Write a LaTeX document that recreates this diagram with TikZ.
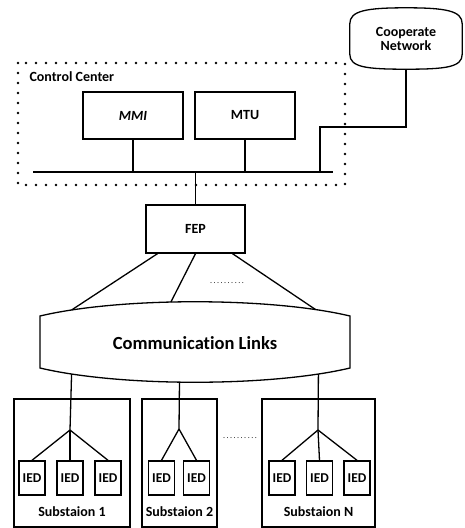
\documentclass[tikz,border=0pt]{standalone}
\usepackage{fontspec}
\setmainfont{Carlito}[Ligatures=NoCommon]
\usetikzlibrary{positioning, calc}
\tikzset{
    unit/.style={
        rectangle,
        draw=black,
        line width=1.3pt,
        minimum width=100pt,
        minimum height=47pt,
        font=\bfseries\fontsize{14}{16}\selectfont,
    },
    ied/.style={
        rectangle,
        draw=black,
        line width=1.4pt,
        minimum width=26pt,
        minimum height=34pt,
        inner sep=0pt,
        font=\bfseries\fontsize{13.5}{15}\selectfont,
    },
    station/.style={
        rectangle,
        draw=black,
        line width=1.2pt,
        minimum height=128pt,
    },
    caption/.style={
        font=\bfseries\fontsize{14}{16}\selectfont,
    },
    link/.style={line width=1.3pt},
    bus/.style={line width=2.4pt},
    ccframe/.style={line width=2.6pt, line cap=round, dash pattern=on 0pt off 10pt},
}

\begin{document}
\begin{tikzpicture}[x=1pt, y=-1pt, node distance=12pt]
      \useasboundingbox (0,0) rectangle (465,528);

      \draw[ccframe] (18,63) rectangle (345,185);
      \node [caption, anchor=west] (cc) at (26,77) {Control Center};

      \node [unit] (MMI) at (133,115.5) {\itshape MMI};
      \node [unit] (MTU) at (245,115.5) {MTU};

      \coordinate (bus-w) at (33,172);
      \coordinate (bus-e) at (333,172);
      \coordinate (tap) at (320,172);
      \coordinate (bend) at (320,127);
      \draw[bus] (bus-w) -- (bus-e);
      \draw[link] (MMI) -- (MMI |- bus-w);
      \draw[link] (MTU) -- (MTU |- bus-w);

      \node [caption, align=center, minimum width=112pt, minimum height=30pt] (coop) at (406,39) {Cooperate\\[-2pt]Network};
      \draw[link] (coop.north west) .. controls +(0,-13) and +(-40,0) .. ($(coop.north)+(0,-16)$)
            .. controls +(40,0) and +(0,-13) .. (coop.north east) -- (coop.south east)
            .. controls +(0,13) and +(40,0) .. ($(coop.south)+(0,15)$) coordinate (coop-b)
            .. controls +(-40,0) and +(0,13) .. (coop.south west) -- cycle;
      \draw[link] (coop-b) |- (bend) -- (tap);

      \node [unit, minimum width=99pt, minimum height=48pt] (FEP) at (195.5,229) {FEP};
      \draw[link] (FEP.north) -- (FEP.north |- bus-w);

      \node [font=\bfseries\fontsize{18.5}{20}\selectfont] (comm) at (195,343) {Communication Links};
      \draw[link] (40,368) -- (40,316)
            .. controls (120,297) and (270,297) .. coordinate[pos=0.12] (cl-t1) coordinate[pos=0.43] (cl-t2) coordinate[pos=0.87] (cl-t3) (350,316)
            -- (350,368)
            .. controls (270,387) and (120,387) .. coordinate[pos=0.88] (cl-b1) coordinate[pos=0.545] (cl-b2) coordinate[pos=0.12] (cl-b3) cycle;

      \draw[link] ($(FEP.south)+(-38,0)$) -- (cl-t1);
      \draw[link] (FEP.south) -- (cl-t2);
      \draw[link] ($(FEP.south)+(37,0)$) -- (cl-t3);
      \node [font=\fontsize{8}{8}\selectfont] (more-links) at (227,283) {\makebox[36pt]{\dotfill}};

      \node [station, minimum width=116pt] (sub1) at (72,463) {};
      \node [station, minimum width=75pt] (sub2) at (179.5,463) {};
      \node [station, minimum width=113pt] (subN) at (318.5,463) {};
      \node [font=\fontsize{8}{8}\selectfont] (more-subs) at (240,438) {\makebox[36pt]{\dotfill}};

      \coordinate (j1) at (70,430);
      \coordinate (j2) at (179,429);
      \coordinate (jN) at (318,430);
      \draw[link] (cl-b1) -- (j1);
      \draw[link] (cl-b2) -- (j2);
      \draw[link] (cl-b3) -- (jN);

      \node [ied] (ied11) at (32,478) {IED};
      \node [ied, right=10.6pt of ied11] (ied12) {IED};
      \node [ied, right=10.6pt of ied12] (ied13) {IED};
      \node [ied] (ied21) at (161.5,478) {IED};
      \node [ied, right=7.6pt of ied21] (ied22) {IED};
      \node [ied] (iedN1) at (282,478) {IED};
      \node [ied, right=10.1pt of iedN1] (iedN2) {IED};
      \node [ied, right=10.1pt of iedN2] (iedN3) {IED};

      \draw[link] (j1) -- (ied11.north);
      \draw[link] (j1) -- (ied12.north);
      \draw[link] (j1) -- (ied13.north);
      \draw[link] (j2) -- (ied21.north);
      \draw[link] (j2) -- (ied22.north);
      \draw[link] (jN) -- (iedN1.north);
      \draw[link] (jN) -- (iedN2.north);
      \draw[link] (jN) -- (iedN3.north);

      \node [caption] (lab1) at (72,512) {Substaion 1};
      \node [caption] (lab2) at (179.5,512) {Substaion 2};
      \node [caption] (labN) at (318.5,512) {Substaion N};
\end{tikzpicture}
\end{document}
